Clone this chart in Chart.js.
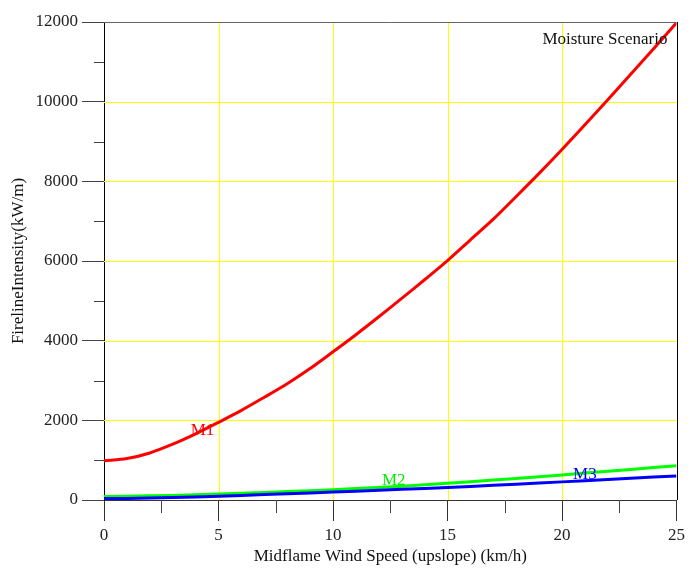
<!DOCTYPE html>
<html>
<head>
<meta charset="utf-8">
<script src="https://cdn.jsdelivr.net/npm/chart.js@4/dist/chart.umd.min.js"></script>
<style>
  html, body { margin: 0; padding: 0; background: #fff; overflow: hidden; }
  canvas { display: block; }
</style>
</head>
<body>
<canvas id="intensityChart" width="689" height="570"></canvas>
<script>
// wind speed (km/h)
const windSpeed = [0, 1, 2, 3, 4, 5, 6, 7, 8, 9, 10, 11, 12, 13, 14, 15, 16, 17, 18, 19, 20, 21, 22, 23, 24, 25];

// fireline intensity (kW/m) per moisture scenario
const m1 = [985, 1040, 1180, 1400, 1660, 1950, 2250, 2580, 2920, 3300, 3720, 4150, 4600, 5060, 5530, 6010, 6530, 7050, 7620, 8200, 8800, 9420, 10050, 10690, 11330, 11980];
const m2 = [90, 96, 104, 115, 130, 150, 170, 190, 212, 235, 260, 287, 315, 345, 380, 420, 460, 500, 542, 585, 630, 675, 722, 768, 814, 860];
const m3 = [35, 40, 48, 60, 76, 95, 115, 135, 157, 178, 200, 222, 244, 267, 290, 315, 342, 370, 398, 426, 455, 485, 515, 545, 575, 605];

const seriesNames = ["M1", "M2", "M3"];
const seriesColors = ["#ff0000", "#00ee00", "#0000ff"];
// where the series names sit, in data units
const nameX = [4.3, 12.65, 21.0];
const nameY = [1750, 480, 630];

const minorX = [2.5, 7.5, 12.5, 17.5, 22.5];
const minorY = [1000, 3000, 5000, 7000, 9000, 11000];

const fonte = '"Liberation Serif", "Times New Roman", serif';

function pontos(valores) {
  return windSpeed.map((v, i) => ({ x: v, y: valores[i] }));
}

// =========================
// GRADE AMARELA (inside the plot only)
// =========================
const grade = {
  id: "grade",
  beforeDatasetsDraw(chart) {
    const ctx = chart.ctx;
    const area = chart.chartArea;
    const sx = chart.scales.x;
    const sy = chart.scales.y;

    ctx.save();
    ctx.fillStyle = "#ffff00";
    sx.ticks.forEach((t) => {
      if (t.value <= sx.min || t.value >= sx.max) return;
      const x = Math.round(sx.getPixelForValue(t.value));
      ctx.fillRect(x, area.top, 1, area.bottom - area.top);
    });
    sy.ticks.forEach((t) => {
      if (t.value <= sy.min || t.value >= sy.max) return;
      const y = Math.round(sy.getPixelForValue(t.value));
      ctx.fillRect(area.left, y, area.right - area.left, 1);
    });
    ctx.restore();
  },
};

// =========================
// EXTRAS: minor ticks, frame, names
// =========================
const extras = {
  id: "extras",
  afterDraw(chart) {
    const ctx = chart.ctx;
    const area = chart.chartArea;
    const sx = chart.scales.x;
    const sy = chart.scales.y;

    ctx.save();
    ctx.strokeStyle = "#444";
    ctx.lineWidth = 1;
    ctx.beginPath();
    minorY.forEach((v) => {
      const y = Math.round(sy.getPixelForValue(v)) + 0.5;
      ctx.moveTo(area.left - 10, y);
      ctx.lineTo(area.left, y);
    });
    minorX.forEach((v) => {
      const x = Math.round(sx.getPixelForValue(v)) + 0.5;
      ctx.moveTo(x, area.bottom);
      ctx.lineTo(x, area.bottom + 13);
    });
    ctx.stroke();

    // top and right frame
    ctx.strokeStyle = "#666";
    ctx.beginPath();
    ctx.moveTo(area.left, Math.round(area.top) + 0.5);
    ctx.lineTo(area.right, Math.round(area.top) + 0.5);
    ctx.stroke();
    ctx.strokeStyle = "#000";
    ctx.beginPath();
    ctx.moveTo(Math.round(area.right) + 0.5, area.top);
    ctx.lineTo(Math.round(area.right) + 0.5, area.bottom);
    ctx.stroke();

    ctx.font = "17px " + fonte;
    ctx.textBaseline = "middle";
    ctx.textAlign = "center";
    seriesNames.forEach((nome, i) => {
      ctx.fillStyle = seriesColors[i];
      ctx.fillText(nome, sx.getPixelForValue(nameX[i]), sy.getPixelForValue(nameY[i]));
    });

    ctx.fillStyle = "#111";
    ctx.textAlign = "right";
    ctx.fillText("Moisture Scenario", area.right - 9, area.top + 18);
    ctx.restore();
  },
};

new Chart(document.getElementById("intensityChart"), {
  type: "line",
  data: {
    datasets: [
      {
        label: "M1",
        data: pontos(m1),
        borderColor: seriesColors[0],
        borderWidth: 3,
        pointRadius: 0,
        tension: 0.3,
        order: 0,
      },
      {
        label: "M2",
        data: pontos(m2),
        borderColor: "#00ff00",
        borderWidth: 3,
        pointRadius: 0,
        order: 2,
      },
      {
        label: "M3",
        data: pontos(m3),
        borderColor: seriesColors[2],
        borderWidth: 3,
        pointRadius: 0,
        order: 1,
      },
    ],
  },
  options: {
    responsive: false,
    devicePixelRatio: 1,
    animation: false,
    layout: {
      padding: { top: 22, right: 8, bottom: 0, left: 0 },
    },
    plugins: {
      legend: { display: false },
      tooltip: { enabled: false },
    },
    scales: {
      x: {
        type: "linear",
        min: 0,
        max: 25,
        afterFit(scale) {
          scale.height = 70;
        },
        ticks: {
          stepSize: 5,
          padding: 4,
          color: "#222",
          font: { family: fonte, size: 17 },
          callback: (v) => String(v),
        },
        grid: {
          drawOnChartArea: false,
          tickColor: "#333",
          tickLength: 21,
        },
        border: { color: "#333", width: 1 },
        title: {
          display: true,
          text: "Midflame Wind Speed (upslope) (km/h)",
          color: "#111",
          font: { family: fonte, size: 17 },
          padding: { top: 0, bottom: 3 },
        },
      },
      y: {
        min: 0,
        max: 12000,
        afterFit(scale) {
          scale.width = 104;
        },
        ticks: {
          stepSize: 2000,
          padding: 4,
          color: "#222",
          font: { family: fonte, size: 17 },
          callback: (v) => String(v),
        },
        grid: {
          drawOnChartArea: false,
          tickColor: "#444",
          tickLength: 22,
        },
        border: { color: "#000", width: 1 },
        title: {
          display: true,
          text: "FirelineIntensity(kW/m)",
          color: "#111",
          font: { family: fonte, size: 17 },
          padding: { top: 8, bottom: 0 },
        },
      },
    },
  },
  plugins: [grade, extras],
});
</script>
</body>
</html>
